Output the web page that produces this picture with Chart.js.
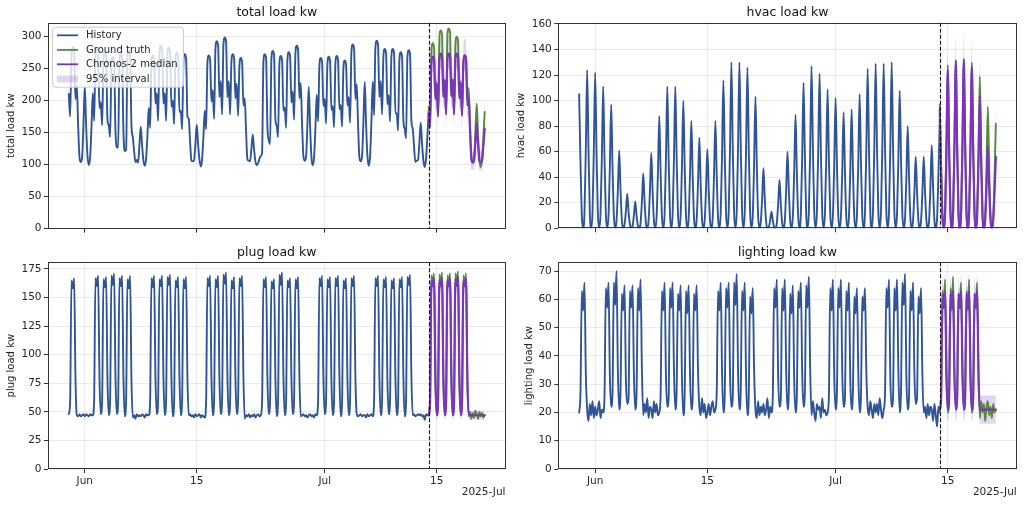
<!DOCTYPE html>
<html><head><meta charset="utf-8">
<script src="https://cdn.jsdelivr.net/npm/chart.js@4.4.1/dist/chart.umd.min.js"></script>
<style>
html,body{margin:0;padding:0;background:#fff;}
#wrap{position:relative;width:1024px;height:505px;overflow:hidden;background:#fff;}
canvas{position:absolute;}
</style></head><body>
<div id="wrap">
<canvas id="c0" width="512" height="240" style="left:0;top:0"></canvas>
<canvas id="c1" width="512" height="240" style="left:512px;top:0"></canvas>
<canvas id="c2" width="512" height="265" style="left:0;top:240px"></canvas>
<canvas id="c3" width="512" height="265" style="left:512px;top:240px"></canvas>
</div>
<script>
// time axis: days relative to 2025-06-01 00:00, samples every 4 hours
const historyStartDay = -2;      // 2025-05-30 00:00
const forecastStartDay = 43;     // 2025-07-14 00:00
const stepDays = 1/6;
const xTickDays = [0, 14, 30, 44];
const xTickLabels = ['Jun', '15', 'Jul', '15'];
const offsetLabel = '2025-Jul';

const totalTicks = [0,50,100,150,200,250,300];
const hvacTicks = [0,20,40,60,80,100,120,140,160];
const plugTicks = [0,25,50,75,100,125,150,175];
const lightTicks = [0,10,20,30,40,50,60,70];

const seriesNames = ['History', 'Ground truth', 'Chronos-2 median', '95% interval'];
const titles = ['total load kw', 'hvac load kw', 'plug load kw', 'lighting load kw'];

// ---- total load kw ----
const totalHist = [
210,175,270,283,276,202, 224,162,112,104,111,163, 222,161,114,99,111,157,
211,168,270,282,275,188, 197,161,264,276,270,170, 161,143,256,268,262,153,
127,126,260,272,265,150, 121,123,266,278,271,161, 143,121,104,107,103,131,
159,129,106,98,109,146, 188,157,258,270,264,195, 211,168,273,285,279,195,
211,168,270,282,276,190, 200,163,263,275,269,182, 184,155,260,272,266,175,
171,135,106,105,107,133, 162,131,108,97,108,144, 184,155,258,270,264,198,
216,171,280,292,286,205, 230,178,286,298,292,205, 230,178,260,272,266,203,
226,176,254,266,260,192, 203,151,108,106,105,125, 147,123,105,99,102,109,
113,119,260,272,266,159, 138,132,265,277,271,170, 160,143,257,269,263,184,
189,157,263,275,269,197, 214,170,273,285,279,203, 227,163,113,106,112,162,
221,160,112,99,111,156, 209,167,254,266,260,191, 202,164,256,268,262,185,
191,158,257,269,263,186, 193,159,250,262,256,192, 205,165,275,287,281,202,
225,162,111,105,113,166, 229,164,114,98,112,166, 229,177,281,293,287,205,
230,178,268,280,274,194, 208,167,268,280,274,180, 180,153,263,275,269,168,
156,141,266,278,272,168, 156,128,104,106,107,134, 165,132,106,96,109,144,
185];
const totalTruth = [
190,161,277,289,283,204, 228,177,297,309,303,206, 232,179,300,312,306,206,
233,179,287,299,293,205, 230,178,258,270,264,200, 219,160,110,104,108,150,
195,147,109,96,108,143, 182];
const totalMedian = [
180,158,258,268,263,202, 224,175,263,273,268,205, 231,178,263,273,268,206,
232,178,263,273,268,203, 227,176,260,270,265,192, 204,152,110,103,106,134,
164,132,106,103,106,130, 156];
const totalLow = [
165,140,235,245,240,180, 205,155,240,250,245,184, 210,158,240,250,245,184,
210,158,240,250,245,182, 205,155,236,246,241,172, 180,132,92,92,92,115,
140,115,90,92,90,110, 135];
const totalHigh = [
200,176,280,292,286,222, 240,192,288,298,292,226, 250,196,290,300,295,226,
252,196,290,300,295,222, 246,193,286,296,290,212, 228,170,125,120,122,155,
190,150,122,120,122,150, 210];

// ---- hvac load kw ----
const hvacHist = [
105,52,10,0,12,62, 124,62,12,0,12,61, 122,61,12,0,11,55, 111,55,11,0,10,48,
97,48,10,0,6,30, 61,30,6,0,3,13, 27,13,3,0,2,10, 21,10,2,0,4,21,
43,21,4,0,6,29, 59,29,6,0,9,44, 88,44,9,0,11,55, 111,55,11,0,11,55,
111,55,11,0,10,50, 100,50,10,0,8,42, 84,42,8,0,7,35, 71,35,7,0,6,31,
62,31,6,0,8,42, 84,42,8,0,12,58, 116,58,12,0,13,65, 130,65,13,0,13,65,
130,65,13,0,13,63, 126,63,13,0,10,51, 103,51,10,0,5,23, 47,23,5,0,1,6,
13,6,1,0,4,19, 38,19,4,0,6,30, 60,30,6,0,9,44, 89,44,9,0,11,57,
114,57,11,0,13,63, 127,63,13,0,12,60, 121,60,12,0,11,54, 109,54,11,0,10,51,
102,51,10,0,9,45, 91,45,9,0,9,46, 93,46,9,0,10,52, 105,52,10,0,12,62,
125,62,12,0,13,64, 129,64,13,0,13,64, 129,64,13,0,13,65, 130,65,13,0,11,54,
108,54,11,0,8,40, 80,40,8,0,6,28, 56,28,6,0,6,28, 56,28,6,0,6,32,
65,32,6,0,8,42,
85];
const hvacTruth = [
97,48,10,0,13,64, 128,64,13,0,13,66, 132,66,13,0,13,66, 133,66,13,0,13,65,
130,65,13,0,12,59, 119,59,12,0,10,47, 95,47,10,0,8,41, 82];
const hvacMedian = [
93,46,9,0,12,62, 124,62,12,0,13,65, 131,65,13,0,13,66, 132,66,13,0,13,63,
127,63,13,0,10,52, 104,52,10,0,6,32, 64,32,6,0,6,28, 56];
const hvacLow = [
80,38,5,0,7,50, 108,50,7,0,7,53, 115,53,7,0,7,52, 114,52,7,0,7,48,
108,48,7,0,5,38, 85,38,5,0,3,20, 48,20,3,0,2,17, 40];
const hvacHigh = [
100,56,14,3,18,72, 136,74,18,3,19,80, 149,80,19,3,19,82, 154,82,19,3,18,78,
146,78,18,3,16,68, 130,68,16,3,12,52, 100,52,12,3,12,52, 99];

// ---- plug load kw ----
const plugHist = [
48,59,165,158,167,80, 47,46,48,46,47,48, 46,48,47,46,48,47,
47,60,167,160,169,81, 48,59,166,159,168,79, 47,61,169,161,171,82,
48,58,167,160,169,80, 46,60,166,158,169,79, 45,47,44,48,46,47,
46,48,47,45,48,47, 47,59,167,159,169,81, 48,60,166,160,169,80,
47,61,168,161,170,79, 46,58,165,159,168,82, 47,60,166,158,168,80,
47,48,46,47,45,48, 46,47,48,45,47,46, 45,59,167,160,169,81,
47,60,166,159,169,79, 48,61,170,162,172,82, 47,58,165,158,168,80,
48,60,167,160,169,81, 44,47,46,48,45,47, 46,48,45,47,48,46,
47,59,166,159,168,80, 48,60,164,158,166,79, 46,61,170,161,172,82,
47,58,165,159,167,80, 48,60,166,158,168,81, 46,47,48,46,47,45,
47,48,46,47,45,48, 47,59,167,160,169,80, 48,60,166,159,168,79,
47,61,167,160,169,82, 46,58,165,158,167,80, 47,60,167,160,169,81,
48,46,47,48,46,47, 47,45,48,46,47,48, 46,59,167,160,169,80,
47,60,166,159,168,79, 48,61,165,158,167,81, 47,58,166,159,168,80,
46,60,168,161,170,82, 47,48,46,47,48,47, 48,46,47,43,48,47,
47];
const plugTruth = [
48,60,169,163,171,82, 47,61,170,162,172,80, 48,59,169,163,171,81,
47,60,171,163,173,82, 48,61,169,162,171,80, 46,50,44,49,45,51,
48,44,50,46,49,45, 47];
const plugMedian = [
47,58,165,160,167,79, 47,58,165,160,167,79, 47,58,165,160,167,79,
47,58,166,160,168,79, 47,58,165,160,167,79, 47,47,47,47,47,47,
47,47,47,47,47,47, 47];
const plugLow = [
43,52,158,153,160,72, 43,52,158,153,160,72, 43,52,158,153,160,72,
43,52,158,153,160,72, 43,52,158,153,160,72, 43,43,43,43,43,43,
43,43,43,43,43,43, 43];
const plugHigh = [
51,64,171,167,173,86, 51,64,171,167,173,86, 51,64,171,167,173,86,
51,64,172,167,174,86, 51,64,171,167,173,86, 51,51,51,51,51,51,
51,51,51,51,51,51, 51];

// ---- lighting load kw ----
const lightHist = [
20,27,63,56,66,34, 21,17,23,19,24,18, 22,19,21,24,18,21,
20,26,64,57,66,33, 22,27,66,58,70,35, 21,28,62,56,65,32,
23,25,63,57,65,34, 21,27,64,56,67,35, 19,23,20,25,18,22,
21,18,24,20,23,19, 20,26,63,56,66,33, 22,25,64,57,66,35,
21,28,62,56,65,32, 19,26,63,55,65,34, 21,25,62,56,65,35,
22,19,25,20,23,18, 20,23,19,22,24,20, 21,27,63,56,66,34,
20,26,64,57,66,33, 22,25,66,58,69,34, 21,28,63,56,66,32,
19,26,61,55,64,35, 21,18,24,19,22,20, 23,19,21,25,18,22,
20,26,64,57,67,33, 22,25,64,56,67,35, 21,28,62,55,65,32,
20,26,63,57,66,34, 22,27,65,57,68,35, 19,24,20,17,23,21,
22,18,25,20,21,19, 20,26,64,56,67,33, 21,27,64,57,67,34,
22,25,63,56,66,32, 21,28,61,55,64,34, 20,26,61,56,64,35,
22,19,24,21,18,23, 20,23,19,25,21,18, 21,26,64,57,67,32,
22,25,64,56,67,35, 20,28,66,58,69,33, 21,26,63,56,66,34,
23,25,61,55,64,33, 20,22,18,23,19,22, 21,17,23,19,15,22,
20];
const lightTruth = [
21,26,63,57,67,34, 20,27,64,56,68,33, 22,25,62,57,66,35,
21,28,63,56,67,32, 20,26,62,57,66,34, 18,24,20,23,17,22,
24,19,22,18,23,20, 21];
const lightMedian = [
21,25,62,57,63,33, 21,25,62,57,63,33, 21,25,62,57,63,33,
21,25,62,57,63,33, 21,25,62,57,63,33, 21,21,21,21,21,21,
21,21,21,21,21,21, 21];
const lightLow = [
17,21,55,51,56,28, 17,21,55,51,56,28, 17,21,55,51,56,28,
17,21,55,51,56,28, 17,21,55,51,56,28, 16,16,16,16,16,16,
16,16,16,16,16,16, 16];
const lightHigh = [
25,30,68,64,69,38, 25,30,68,64,69,38, 25,30,68,64,69,38,
25,30,68,64,69,38, 25,30,68,64,69,38, 26,26,26,26,26,26,
26,26,26,26,26,26, 26];

// ---- styling ----
const COL_HIST = '#2f5597';
const COL_TRUTH = '#568b3b';
const COL_MED = '#7b35b8';
const COL_BAND = 'rgba(153,119,214,0.30)';
const COL_GRID = 'rgba(176,176,176,0.32)';
const COL_AXIS = '#333333';
const COL_TEXT = '#262626';
const FONT = 'DejaVu Sans';
Chart.defaults.font.family = FONT;

function pts(start, vals) { return vals.map((v, i) => ({ x: start + i * stepDays, y: v })); }

const decor = {
  id: 'decor',
  afterDatasetsDraw(chart) {
    const { ctx, chartArea: a, scales } = chart;
    const x = Math.round(scales.x.getPixelForValue(forecastStartDay)) + 0.5;
    ctx.save();
    ctx.strokeStyle = '#111'; ctx.lineWidth = 1.1; ctx.setLineDash([4, 2]);
    ctx.beginPath(); ctx.moveTo(x, a.top); ctx.lineTo(x, a.bottom); ctx.stroke();
    ctx.restore();
  },
  afterDraw(chart) {
    const p = chart.options.plugins.decor;
    const { ctx, chartArea: a } = chart;
    ctx.save();
    ctx.strokeStyle = COL_AXIS; ctx.lineWidth = 1;
    const l = Math.round(a.left) + 0.5, t = Math.round(a.top) + 0.5;
    const r = Math.round(a.right) - 0.5, b = Math.round(a.bottom) - 0.5;
    ctx.strokeRect(l, t, r - l, b - t);
    ctx.fillStyle = '#111';
    ctx.font = '12.5px ' + FONT;
    ctx.textAlign = 'center'; ctx.textBaseline = 'alphabetic';
    ctx.fillText(p.title, (a.left + a.right) / 2, a.top - 6.5);
    ctx.save();
    ctx.font = '10px ' + FONT; ctx.fillStyle = COL_TEXT;
    ctx.translate(p.ylabelX, (a.top + a.bottom) / 2);
    ctx.rotate(-Math.PI / 2);
    ctx.textAlign = 'center'; ctx.textBaseline = 'middle';
    ctx.fillText(p.ylabel, 0, 0);
    ctx.restore();
    if (p.offset) {
      ctx.font = '10.5px ' + FONT; ctx.fillStyle = COL_TEXT;
      ctx.textAlign = 'right'; ctx.textBaseline = 'middle';
      ctx.fillText(offsetLabel, a.right, a.bottom + 23.5);
    }
    if (p.legend) {
      const lx = a.left + 4.5, ly = a.top + 4.5, lw = 131, lh = 60;
      ctx.beginPath();
      ctx.roundRect(lx, ly, lw, lh, 3);
      ctx.fillStyle = 'rgba(255,255,255,0.8)'; ctx.fill();
      ctx.strokeStyle = '#cccccc'; ctx.lineWidth = 1; ctx.stroke();
      const rows = [12.6, 27.2, 41.6, 56.3];
      const cols = [COL_HIST, COL_TRUTH, COL_MED];
      ctx.font = '10px ' + FONT; ctx.textAlign = 'left'; ctx.textBaseline = 'middle';
      for (let i = 0; i < 4; i++) {
        const y = a.top + rows[i];
        if (i < 3) {
          ctx.strokeStyle = cols[i]; ctx.lineWidth = 1.8;
          ctx.beginPath(); ctx.moveTo(a.left + 9, y); ctx.lineTo(a.left + 30, y); ctx.stroke();
        } else {
          ctx.fillStyle = COL_BAND; ctx.fillRect(a.left + 9, y - 3.5, 21, 7);
        }
        ctx.fillStyle = COL_TEXT;
        ctx.fillText(seriesNames[i], a.left + 38, y + 0.5);
      }
    }
    ctx.restore();
  }
};

function makePanel(id, cfg) {
  const ds = [
    { label: seriesNames[2], data: pts(forecastStartDay, cfg.median), borderColor: COL_MED, borderWidth: 2.2, order: 0 },
    { label: seriesNames[1], data: pts(forecastStartDay, cfg.truth), borderColor: COL_TRUTH, borderWidth: 1.9, order: 1 },
    { label: seriesNames[0], data: pts(historyStartDay, cfg.hist), borderColor: COL_HIST, borderWidth: 1.9, order: 2 },
    { label: 'lower', data: pts(forecastStartDay, cfg.low), borderColor: 'rgba(0,0,0,0)', borderWidth: 0, fill: false, order: 3 },
    { label: seriesNames[3], data: pts(forecastStartDay, cfg.high), borderColor: 'rgba(0,0,0,0)', borderWidth: 0, backgroundColor: COL_BAND, fill: '-1', order: 4 }
  ];
  ds.forEach(d => { d.pointRadius = 0; d.cubicInterpolationMode = 'monotone'; d.borderJoinStyle = 'round'; d.borderCapStyle = 'round'; });
  return new Chart(document.getElementById(id), {
    type: 'line',
    data: { datasets: ds },
    options: {
      responsive: false, animation: false, devicePixelRatio: 1, events: [],
      layout: { padding: { top: cfg.padTop, right: cfg.padRight, left: 0, bottom: 0 } },
      plugins: {
        legend: { display: false }, tooltip: { enabled: false }, title: { display: false },
        decor: { title: cfg.title, ylabel: cfg.title, ylabelX: cfg.ylabelX, offset: cfg.showX, legend: cfg.legend }
      },
      scales: {
        x: {
          type: 'linear', min: -4.6, max: 52.6,
          afterBuildTicks: s => { s.ticks = xTickDays.map(v => ({ value: v })); },
          afterFit: s => { s.height = cfg.xH; },
          ticks: { display: cfg.showX, autoSkip: false, maxRotation: 0, padding: 1.5, color: COL_TEXT, font: { size: 10.5 },
                   callback: (v, i) => xTickLabels[i] },
          grid: { color: COL_GRID, lineWidth: 0.8, tickColor: COL_AXIS, tickLength: 4, tickWidth: 1 },
          border: { display: false }
        },
        y: {
          type: 'linear', min: 0, max: cfg.yMax,
          afterBuildTicks: s => { s.ticks = cfg.yTicks.map(v => ({ value: v })); },
          afterFit: s => { s.width = cfg.yW; },
          ticks: { autoSkip: false, padding: 2.5, color: COL_TEXT, font: { size: 10.5 }, callback: v => String(v) },
          grid: { color: COL_GRID, lineWidth: 0.8, tickColor: COL_AXIS, tickLength: 4, tickWidth: 1 },
          border: { display: false }
        }
      }
    },
    plugins: [decor]
  });
}

makePanel('c0', { title: titles[0], hist: totalHist, truth: totalTruth, median: totalMedian, low: totalLow, high: totalHigh,
  yTicks: totalTicks, yMax: 321, padTop: 22.7, padRight: 6.5, yW: 48, xH: 11.3, showX: false, legend: true, ylabelX: 11.7 });
makePanel('c1', { title: titles[1], hist: hvacHist, truth: hvacTruth, median: hvacMedian, low: hvacLow, high: hvacHigh,
  yTicks: hvacTicks, yMax: 161, padTop: 22.7, padRight: 7.3, yW: 46.3, xH: 11.7, showX: false, legend: false, ylabelX: 9.7 });
makePanel('c2', { title: titles[2], hist: plugHist, truth: plugTruth, median: plugMedian, low: plugLow, high: plugHigh,
  yTicks: plugTicks, yMax: 180.8, padTop: 22.3, padRight: 6.5, yW: 48, xH: 36, showX: true, legend: false, ylabelX: 11.7 });
makePanel('c3', { title: titles[3], hist: lightHist, truth: lightTruth, median: lightMedian, low: lightLow, high: lightHigh,
  yTicks: lightTicks, yMax: 73.1, padTop: 22.3, padRight: 7.3, yW: 46.3, xH: 36, showX: true, legend: false, ylabelX: 17 });
</script>
</body></html>
